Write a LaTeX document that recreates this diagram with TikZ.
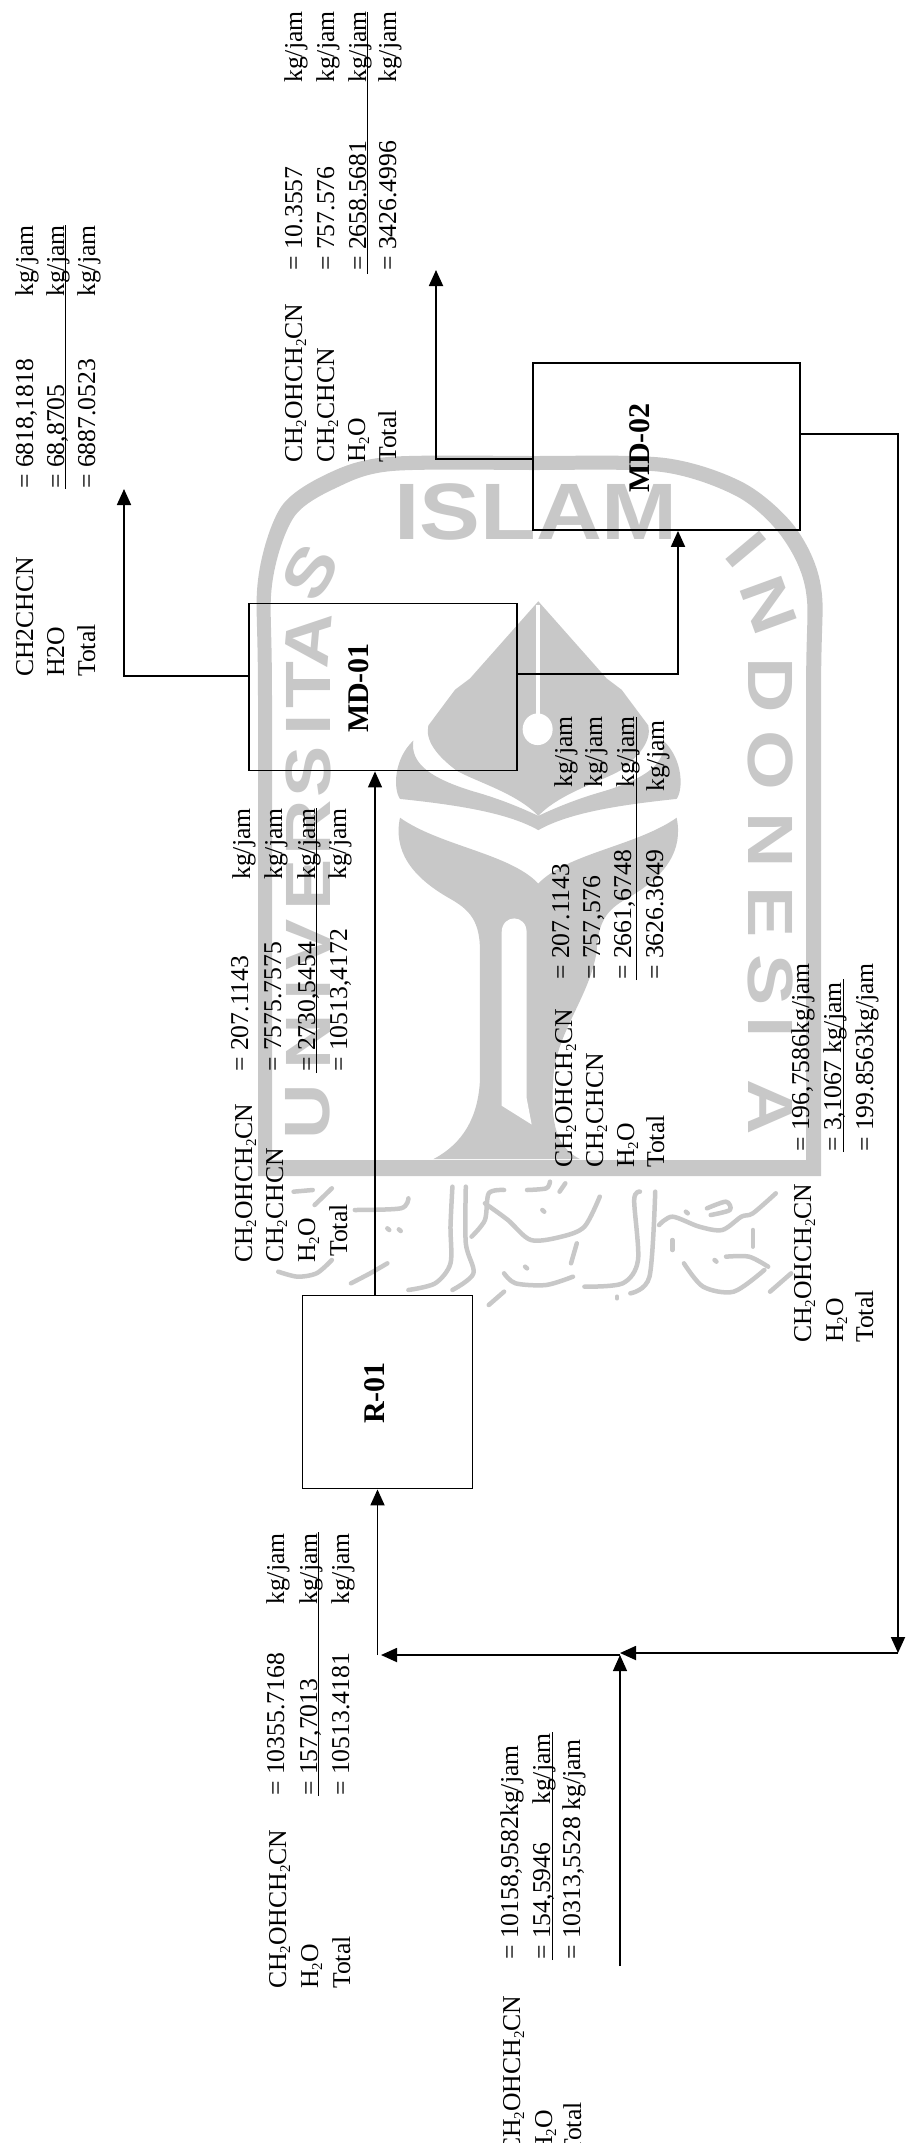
\documentclass[tikz,border=0pt]{standalone}
\usepackage{fontspec}
\setmainfont{Liberation Serif}
\newfontfamily\wmfont{Liberation Sans}
\usetikzlibrary{arrows.meta,calc}
\definecolor{wm}{HTML}{C8C8C8}
\newcommand{\sbs}[1]{\raisebox{-0.16em}{\fontsize{15}{15}\selectfont #1}}
\newcommand{\cnA}{CH\sbs{2}OHCH\sbs{2}CN}
\newcommand{\cnB}{CH\sbs{2}CHCN}
\newcommand{\wat}{H\sbs{2}O}
\newcommand{\wml}[1]{\scalebox{1.2}[1]{\fontsize{64}{64}\selectfont\wmfont\bfseries #1}}
\tikzset{
  rt/.style={rotate=90,anchor=base west,inner sep=0pt,font=\fontsize{25.7}{25.7}\selectfont},
  boxlabel/.style={rotate=90,anchor=base,inner sep=0pt,font=\fontsize{30}{30}\selectfont\bfseries},
  procbox/.style={draw=black,line width=1.8pt,inner sep=0pt,rectangle},
  flow/.style={draw=black,line width=1.8pt,-{Triangle[length=16pt,width=14pt]}},
  plain/.style={draw=black,line width=1.8pt},
  rule/.style={draw=black,line width=1pt},
  wmletter/.style={text=wm,inner sep=0pt,anchor=center},
  wmstroke/.style={draw=wm,line width=4.5pt,line cap=round,line join=round}
}
\begin{document}
\begin{tikzpicture}[x=1pt,y=-1pt]
\path[use as bounding box,clip] (0,0) rectangle (906,2143);
\fill[white] (0,0) rectangle (906,2143);
% ---------- watermark ----------
\fill[wm,even odd rule]
  plot[smooth] coordinates {(258,1176) (258,700) (258,580) (281,507) (329,473) (388,457) (530,456) (665,458) (744,483) (795,527) (821,587) (821,700) (821,1176)} -- cycle
  plot[smooth] coordinates {(272,1160) (272,700) (272,585) (294,517) (338,487) (392,471) (530,470) (662,472) (738,497) (782,537) (806,592) (806,700) (806,1160)} -- cycle;
\begin{scope}[shift={(390pt,-590pt)},x=0.3333pt,y=-0.3764pt]
  % spade
  \fill[wm] (445,30) -- (240,235) -- (195,265) -- (115,360) .. controls (105,400) and (140,440) .. (200,480)
     .. controls (260,510) and (380,540) .. (445,600) .. controls (510,540) and (630,510) .. (690,480)
     .. controls (750,440) and (785,400) .. (775,360) -- (695,265) -- (650,235) -- cycle;
  % upper wings
  \fill[wm] (70,400) .. controls (60,460) and (120,500) .. (250,535) .. controls (350,560) and (420,590) .. (445,600)
     .. controls (470,590) and (540,560) .. (640,535) .. controls (770,500) and (830,460) .. (820,400)
     .. controls (880,450) and (880,530) .. (860,555) .. controls (700,570) and (540,590) .. (445,638)
     .. controls (350,590) and (190,570) .. (30,555) .. controls (10,530) and (10,450) .. (70,400) -- cycle;
  % lower wings, stem
  \fill[wm] (445,780) .. controls (360,700) and (150,680) .. (30,605)
     .. controls (10,690) and (60,760) .. (180,820) .. controls (240,850) and (270,880) .. (270,960)
     -- (270,1300) .. controls (265,1400) and (220,1470) .. (130,1512)
     -- (570,1512) .. controls (500,1480) and (480,1420) .. (490,1300)
     .. controls (495,1180) and (600,1080) .. (620,960)
     .. controls (625,880) and (650,850) .. (710,820) .. controls (830,760) and (880,690) .. (860,605)
     .. controls (740,680) and (530,700) .. (445,780) -- cycle;
  % slot, eye, vein
  \fill[white] (335,1370) -- (335,910) .. controls (335,860) and (410,860) .. (410,910) -- (410,1350) -- (425,1420) -- cycle;
  \fill[white] (443,370) ellipse [x radius=45,y radius=42];
  \fill[white] (437,40) -- (449,40) -- (449,340) -- (437,340) -- cycle;
\end{scope}
% watermark words
\node[wmletter] (wIslam) at (536,512) {\scalebox{1.14}[1]{\fontsize{80}{80}\selectfont\wmfont\bfseries ISLAM}};
\node[wmletter,rotate=60] (u11) at (310,572) {\wml{S}};
\node[wmletter,rotate=85] (u10) at (308,640) {\wml{A}};
\node[wmletter,rotate=90] (u9) at (308,685) {\wml{T}};
\node[wmletter,rotate=90] (u8) at (308,725) {\wml{I}};
\node[wmletter,rotate=90] (u7) at (308,772) {\wml{S}};
\node[wmletter,rotate=90] (u6) at (308,828) {\wml{R}};
\node[wmletter,rotate=90] (u5) at (308,885) {\wml{E}};
\node[wmletter,rotate=90] (u4) at (308,945) {\wml{V}};
\node[wmletter,rotate=90] (u3) at (308,990) {\wml{I}};
\node[wmletter,rotate=90] (u2) at (308,1042) {\wml{N}};
\node[wmletter,rotate=90] (u1) at (308,1112) {\wml{U}};
\node[wmletter,rotate=-50] (i1) at (746,550) {\wml{I}};
\node[wmletter,rotate=-70] (i2) at (769,605) {\wml{N}};
\node[wmletter,rotate=-90] (i3) at (771,685) {\wml{D}};
\node[wmletter,rotate=-90] (i4) at (771,760) {\wml{O}};
\node[wmletter,rotate=-90] (i5) at (771,840) {\wml{N}};
\node[wmletter,rotate=-90] (i6) at (771,912) {\wml{E}};
\node[wmletter,rotate=-90] (i7) at (771,980) {\wml{S}};
\node[wmletter,rotate=-90] (i8) at (771,1027) {\wml{I}};
\node[wmletter,rotate=-90] (i9) at (771,1107) {\wml{A}};
% calligraphy
\begin{scope}[shift={(240pt,-1160pt)},x=0.3827pt,y=-0.3333pt]
  \draw[wmstroke] plot[smooth] coordinates {(140,95) (190,90)};
  \draw[wmstroke] plot[smooth] coordinates {(240,85) (195,135)};
  \draw[wmstroke] plot[smooth] coordinates {(100,335) (150,350) (200,340) (240,300)};
  \draw[wmstroke] plot[smooth] coordinates {(290,370) (340,340) (385,310)};
  \draw[wmstroke] plot[smooth] coordinates {(300,150) (420,145) (440,115)};
  \draw[wmstroke] (385,205) -- (390,210);
  \draw[wmstroke] (415,208) -- (420,213);
  \draw[wmstroke] plot[smooth] coordinates {(440,390) (510,370) (550,310) (550,200) (555,80)};
  \draw[wmstroke] plot[smooth] coordinates {(555,390) (610,340) (590,250) (590,80)};
  \draw[wmstroke] plot[smooth] coordinates {(605,230) (640,180) (650,100) (690,90)};
  \draw[wmstroke] plot[smooth] coordinates {(640,130) (700,180) (760,240) (840,230) (900,200) (940,110)};
  \draw[wmstroke] plot[smooth] coordinates {(750,90) (800,85) (810,65)};
  \draw[wmstroke] (850,70) -- (835,95);
  \draw[wmstroke] (790,150) -- (795,155);
  \draw[wmstroke] plot[smooth] coordinates {(690,340) (720,370) (800,375) (870,350)};
  \draw[wmstroke] (880,250) -- (865,310);
  \draw[wmstroke] (745,320) -- (750,325);
  \draw[wmstroke] (650,435) -- (690,395);
  \draw[wmstroke] plot[smooth] coordinates {(900,380) (1000,370) (1040,300) (1030,120) (1045,95)};
  \draw[wmstroke] plot[smooth] coordinates {(1020,400) (1070,350) (1085,95)};
  \draw[wmstroke] (985,410) -- (985,415);
  \draw[wmstroke] plot[smooth] coordinates {(1095,195) (1130,170) (1200,200) (1260,210) (1310,170) (1340,160) (1400,100)};
  \draw[wmstroke] (1130,240) -- (1130,270);
  \draw[wmstroke] (1165,155) -- (1170,160);
  \draw[wmstroke] plot[smooth] coordinates {(1160,310) (1210,380) (1290,395) (1370,330)};
  \draw[wmstroke] (1240,300) -- (1245,305);
  \draw[wmstroke] plot[smooth] coordinates {(1270,290) (1330,290) (1380,320)};
  \draw[wmstroke] plot[smooth] coordinates {(1220,145) (1270,125) (1280,150) (1230,165)};
  \draw[wmstroke] (1340,210) -- (1340,260);
  \draw[wmstroke] (1385,395) -- (1440,340);
\end{scope}
% ---------- process boxes ----------
\node[procbox,minimum width=267pt,minimum height=167pt] (md2) at (666.5,446.5) {};
\node[procbox,minimum width=268pt,minimum height=167pt] (md1) at (383,687) {};
\node[procbox,minimum width=170pt,minimum height=193pt] (r1) at (387.5,1392) {};
\node[boxlabel] (lmd2) at (649,448) {MD-02};
\node[boxlabel] (lmd1) at (368,688) {MD-01};
\node[boxlabel] (lr1) at (384,1393) {R-01};
% ---------- connectors ----------
\coordinate (e1) at (124,676);
\coordinate (e1t) at (124,489);
\coordinate (e2) at (436,459);
\coordinate (e2t) at (436,270);
\coordinate (e3) at (678,674);
\coordinate (e4) at (898,434);
\coordinate (e4t) at (898,1653);
\coordinate (j1) at (620,1653);
\coordinate (j2) at (620,1655);
\coordinate (j3) at (381,1655);
\coordinate (j4) at (377.5,1655);
\coordinate (feed) at (620,1966);
\coordinate (rmx) at (375,1000);
\draw[flow] (md1.west |- e1) -- (e1) -- (e1t);
\draw[flow] (md2.west |- e2) -- (e2) -- (e2t);
\draw[flow] (md1.east |- e3) -- (e3) -- (md2.south -| e3);
\draw[flow] (md2.east |- e4) -- (e4) -- (e4t);
\draw[flow] (e4t) -- (j1);
\draw[flow] (j2) -- (j3);
\draw[flow] (j4) -- (r1.south -| j4);
\draw[flow,line width=1.2pt] (feed) -- (j2);
\draw[flow,line width=1.2pt] (r1.north -| rmx) -- (md1.south -| rmx);
% ---------- stream A ----------
\node[rt] (a1) at (33,677) {CH2CHCN};
\node[rt] (a2) at (64,677) {H2O};
\node[rt] (a3) at (95,677) {Total};
\node[rt] (a4) at (33,489) {= 6818,1818};
\node[rt] (a5) at (64,489) {= 68,8705};
\node[rt] (a6) at (95,489) {= 6887.0523};
\node[rt] (a7) at (33,297) {kg/jam};
\node[rt] (a8) at (64,297) {kg/jam};
\node[rt] (a9) at (95,297) {kg/jam};
\coordinate (ar1) at (65,489);
\coordinate (ar2) at (65,225);
\draw[rule] (ar1) -- (ar2);
% ---------- stream B ----------
\node[rt] (b1) at (302,463) {\cnA};
\node[rt] (b2) at (334,463) {\cnB};
\node[rt] (b3) at (365,463) {\wat};
\node[rt] (b4) at (396,463) {Total};
\node[rt] (b5) at (302,271) {= 10.3557};
\node[rt] (b6) at (334,271) {= 757.576};
\node[rt] (b7) at (366,271) {= 2658.5681};
\node[rt] (b8) at (396,271) {= 3426.4996};
\node[rt] (b9) at (302,83) {kg/jam};
\node[rt] (b10) at (334,83) {kg/jam};
\node[rt] (b11) at (366,83) {kg/jam};
\node[rt] (b12) at (396,83) {kg/jam};
\coordinate (br1) at (367,274);
\coordinate (br2) at (367,12);
\draw[rule] (br1) -- (br2);
% ---------- stream C ----------
\node[rt] (c1) at (252,1263) {\cnA};
\node[rt] (c2) at (283,1263) {\cnB};
\node[rt] (c3) at (315,1263) {\wat};
\node[rt] (c4) at (347,1257) {Total};
\node[rt] (c5) at (248,1072) {= 207.1143};
\node[rt] (c6) at (281,1072) {= 7575.7575};
\node[rt] (c7) at (315,1072) {= 2730,5454};
\node[rt] (c8) at (347,1072) {= 10513,4172};
\node[rt] (c9) at (250,880) {kg/jam};
\node[rt] (c10) at (282,880) {kg/jam};
\node[rt] (c11) at (315,880) {kg/jam};
\node[rt] (c12) at (346,880) {kg/jam};
\coordinate (cr1) at (316,1073);
\coordinate (cr2) at (316,808);
\draw[rule] (cr1) -- (cr2);
% ---------- stream D ----------
\node[rt] (d1) at (572,1168) {\cnA};
\node[rt] (d2) at (603,1168) {\cnB};
\node[rt] (d3) at (634,1168) {\wat};
\node[rt] (d4) at (664,1168) {Total};
\node[rt] (d5) at (569,980) {= 207.1143};
\node[rt] (d6) at (600,980) {= 757,576};
\node[rt] (d7) at (631,980) {= 2661,6748};
\node[rt] (d8) at (663,980) {= 3626.3649};
\node[rt] (d9) at (572,788) {kg/jam};
\node[rt] (d10) at (602,788) {kg/jam};
\node[rt] (d11) at (634,788) {kg/jam};
\node[rt] (d12) at (664,792) {kg/jam};
\coordinate (dr1) at (636,980);
\coordinate (dr2) at (636,717);
\draw[rule] (dr1) -- (dr2);
% ---------- stream E ----------
\node[rt] (f1) at (811,1343) {\cnA};
\node[rt] (f2) at (843,1343) {\wat};
\node[rt] (f3) at (873,1343) {Total};
\node[rt] (f4) at (809,1152) {= 196,7586kg/jam};
\node[rt] (f5) at (841,1152) {= 3,1067 kg/jam};
\node[rt] (f6) at (873,1152) {= 199.8563kg/jam};
\coordinate (fr1) at (843,1152);
\coordinate (fr2) at (843,979);
\draw[rule] (fr1) -- (fr2);
% ---------- stream F ----------
\node[rt] (g1) at (286,1989) {\cnA};
\node[rt] (g2) at (318,1989) {\wat};
\node[rt] (g3) at (350,1989) {Total};
\node[rt] (g4) at (284,1796) {= 10355.7168};
\node[rt] (g5) at (317,1796) {= 157,7013};
\node[rt] (g6) at (349,1796) {= 10513.4181};
\node[rt] (g7) at (284,1605) {kg/jam};
\node[rt] (g8) at (317,1605) {kg/jam};
\node[rt] (g9) at (349,1605) {kg/jam};
\coordinate (gr1) at (318,1796);
\coordinate (gr2) at (318,1532);
\draw[rule] (gr1) -- (gr2);
% ---------- stream G ----------
\node[rt] (h1) at (520,2155) {\cnA};
\node[rt] (h2) at (552,2155) {\wat};
\node[rt] (h3) at (581,2155) {Total};
\node[rt] (h4) at (518,1960) {= 10158,9582kg/jam};
\node[rt] (h5) at (550,1960) {= 154,5946};
\node[rt] (h6) at (550,1805) {kg/jam};
\node[rt] (h7) at (580,1960) {= 10313,5528 kg/jam};
\coordinate (hr1) at (552,1960);
\coordinate (hr2) at (552,1732);
\draw[rule] (hr1) -- (hr2);
\end{tikzpicture}
\end{document}
